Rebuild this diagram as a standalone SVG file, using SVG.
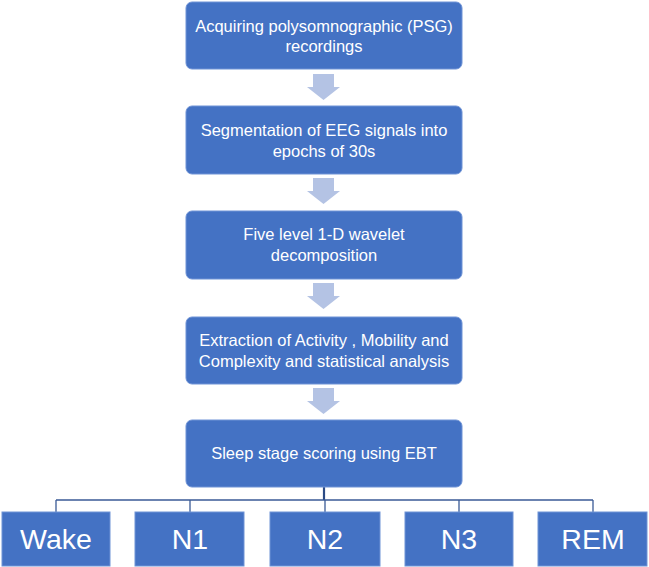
<svg xmlns="http://www.w3.org/2000/svg" width="649" height="567" viewBox="0 0 649 567">
<style>
.box{fill:#4472C4;stroke:#6F93D6;stroke-width:1}
.t{fill:#FFFFFF;font-family:"Liberation Sans",Arial,sans-serif;font-size:16.5px;text-anchor:middle}
.tb{fill:#FFFFFF;font-family:"Liberation Sans",Arial,sans-serif;font-size:28.5px;text-anchor:middle}
.arr{fill:#B4C3E4}
.ln{stroke:#3A5A96;stroke-width:1.3;fill:none}
</style>
<defs>
<path id="downArrow" class="arr" d="M-11,0 H10 V13 H16 L-0.5,26 L-17,13 H-11 Z"/>
</defs>
<rect width="649" height="567" fill="#FFFFFF"/>
<g id="connectors">
<use href="#downArrow" x="324" y="74"/>
<use href="#downArrow" x="324" y="178"/>
<use href="#downArrow" x="324" y="283"/>
<use href="#downArrow" x="324" y="388"/>
<line class="ln" x1="324" y1="487" x2="324" y2="500" style="stroke-width:2.2;stroke:#2B4A85"/>
<line class="ln" x1="56" y1="500" x2="593" y2="500"/>
<line class="ln" x1="56" y1="500" x2="56" y2="512"/>
<line class="ln" x1="190" y1="500" x2="190" y2="512"/>
<line class="ln" x1="325" y1="500" x2="325" y2="512"/>
<line class="ln" x1="459" y1="500" x2="459" y2="512"/>
<line class="ln" x1="593" y1="500" x2="593" y2="512"/>
</g>
<g id="step1">
<rect class="box" x="186" y="2" width="276" height="67" rx="6"/>
<text class="t" x="324" y="32">Acquiring polysomnographic (PSG)</text>
<text class="t" x="324" y="52">recordings</text>
</g>
<g id="step2">
<rect class="box" x="186" y="106" width="276" height="68" rx="6"/>
<text class="t" x="324" y="136">Segmentation of EEG signals into</text>
<text class="t" x="324" y="157">epochs of 30s</text>
</g>
<g id="step3">
<rect class="box" x="186" y="211" width="276" height="68" rx="6"/>
<text class="t" x="324" y="240">Five level 1-D wavelet</text>
<text class="t" x="324" y="261">decomposition</text>
</g>
<g id="step4">
<rect class="box" x="186" y="317" width="276" height="67" rx="6"/>
<text class="t" x="324" y="346">Extraction of Activity , Mobility and</text>
<text class="t" x="324" y="367">Complexity and statistical analysis</text>
</g>
<g id="step5">
<rect class="box" x="186" y="420" width="276" height="67" rx="6"/>
<text class="t" x="324" y="459">Sleep stage scoring using EBT</text>
</g>
<g id="wake">
<rect class="box" x="2" y="512" width="108" height="54"/>
<text class="tb" x="56" y="549">Wake</text>
</g>
<g id="n1">
<rect class="box" x="135" y="512" width="109" height="54"/>
<text class="tb" x="190" y="549">N1</text>
</g>
<g id="n2">
<rect class="box" x="270" y="512" width="110" height="54"/>
<text class="tb" x="325" y="549">N2</text>
</g>
<g id="n3">
<rect class="box" x="405" y="512" width="108" height="54"/>
<text class="tb" x="459" y="549">N3</text>
</g>
<g id="rem">
<rect class="box" x="538" y="512" width="109" height="54"/>
<text class="tb" x="593" y="549">REM</text>
</g>
</svg>
